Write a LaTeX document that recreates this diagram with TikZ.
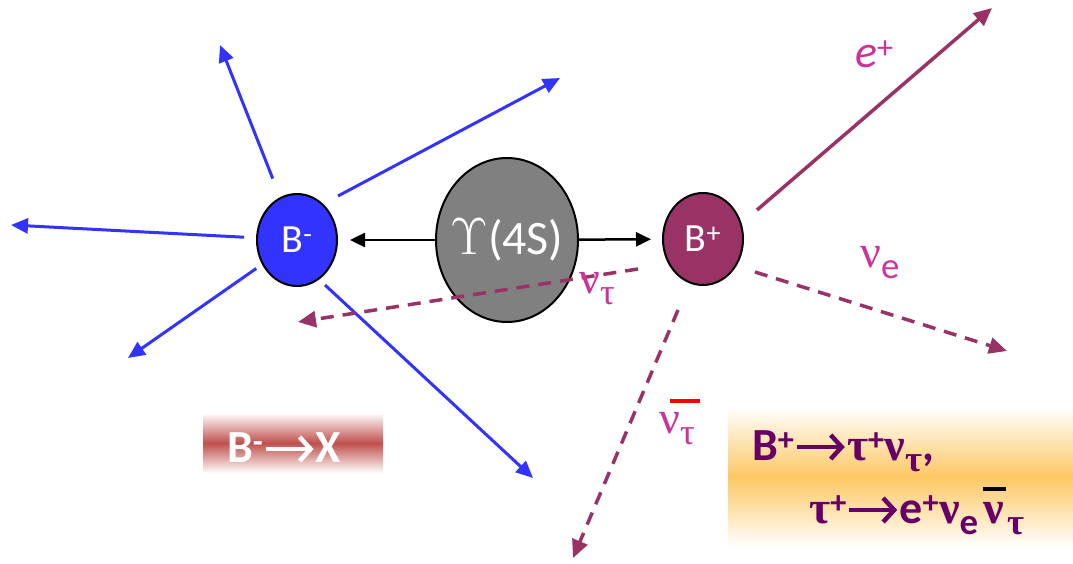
\documentclass[tikz,border=0pt]{standalone}
\usepackage{fontspec}
\setmainfont{Carlito}
\newfontfamily\grk{Liberation Serif}
\usetikzlibrary{arrows.meta,calc,positioning,shapes.geometric}
\definecolor{bmblue}{RGB}{51,51,255}
\definecolor{bpplum}{RGB}{153,51,102}
\definecolor{upsgray}{RGB}{128,128,128}
\definecolor{lblpink}{RGB}{204,51,153}
\definecolor{boxpurple}{RGB}{102,0,102}
\definecolor{bandred}{RGB}{192,80,77}
\definecolor{bandorange}{RGB}{252,200,100}
\newcommand{\bigtext}{\fontsize{46}{50}\selectfont}
\newcommand{\longarr}[1]{\tikz[baseline=-13pt]\draw[#1,line width=4.5pt,
  -{Straight Barb[length=11pt,width=24pt]}] (0pt,0pt) -- (48pt,0pt);}
\newcommand{\gnu}{{\grk ν}}
\newcommand{\gtau}{{\grk τ}}
\newcommand{\lsub}[1]{\raisebox{-0.26em}{\scalebox{0.8}{#1}}}
\newcommand{\barnu}{\makebox[0pt][l]{\raisebox{0.7em}{\color{black}\rule{0.5em}{0.09em}}}\gnu}
\tikzset{
  meson/.style={ellipse,draw=black,line width=2pt,minimum width=80pt,minimum height=92pt,
    inner sep=0pt,text=white,font=\fontsize{40}{44}\selectfont},
  beam/.style={draw=black,line width=2.5pt,-{Triangle[length=15pt,width=14pt]}},
  track/.style={draw=bmblue,line width=3pt,-{Triangle[length=17pt,width=15pt]}},
  lepton/.style={draw=bpplum,line width=3.5pt,-{Triangle[length=18pt,width=16pt]}},
  neutrino/.style={lepton,dash pattern=on 13pt off 9pt},
  lbl/.style={text=lblpink,font=\bigtext,inner sep=0pt,anchor=base west},
  boxtext/.style={text=boxpurple,font=\bigtext\bfseries,inner sep=0pt,anchor=base west}
}
\begin{document}
\begin{tikzpicture}[x=1pt,y=-1pt]
  \useasboundingbox (0,0) rectangle (1073,564);
  % decay boxes
  \shade[top color=white,bottom color=white,middle color=bandred] (203,413) rectangle (383,473);
  \shade[top color=white,bottom color=white,middle color=bandorange] (728,407) rectangle (1073,547);
  % mesons
  \node[meson,fill=upsgray,minimum width=142pt,minimum height=164pt,font=\fontsize{48}{52}\selectfont]
    (ups) at (507,240) {\makebox[0pt]{\scalebox{2.1}{$\Upsilon$}(4S)}};
  \node[meson,fill=bmblue] (bm) at (297,240) {B\textsuperscript{-}};
  \node[meson,fill=bpplum] (bp) at (703,239) {B\textsuperscript{+}};
  \draw[beam,shorten >=12pt] (ups) -- (bm);
  \draw[beam,shorten >=11pt] (ups) -- (bp);
  % B- tracks
  \coordinate (tUp) at (220,45);
  \coordinate (tLeft) at (11,225);
  \coordinate (tDownL) at (128,358);
  \coordinate (tUpRS) at (338,196);
  \coordinate (tUpR) at (560,78);
  \coordinate (tDownRS) at (325,285);
  \coordinate (tDownR) at (533,478);
  \draw[track,shorten <=20pt] (bm) -- (tUp);
  \draw[track,shorten <=12pt] (bm) -- (tLeft);
  \draw[track,shorten <=7pt] (bm) -- (tDownL);
  \draw[track] (tUpRS) -- (tUpR);
  \draw[track] (tDownRS) -- (tDownR);
  % B+ decay products
  \coordinate (ePlusS) at (757,210);
  \coordinate (ePlus) at (992,8);
  \coordinate (nuTauS) at (638,269);
  \coordinate (nuTau) at (298,322);
  \coordinate (nuBarS) at (678,310);
  \coordinate (nuBar) at (573,558);
  \coordinate (nuES) at (755,272);
  \coordinate (nuE) at (1007,351);
  \draw[lepton] (ePlusS) -- (ePlus);
  \draw[neutrino] (nuTauS) -- (nuTau);
  \draw[neutrino] (nuBarS) -- (nuBar);
  \draw[neutrino] (nuES) -- (nuE);
  % labels
  \node[lbl] (ePlusLbl) at (855,68) {\textit{e}\textsuperscript{+}};
  \node[lbl] (nuELbl) at (860,267) {\gnu\lsub{e}};
  \node[lbl] (nuTauLbl) at (579,293) {\gnu\lsub{\gtau}};
  \node[lbl] (nuBarLbl) at (659,433) {\gnu\lsub{\gtau}};
  \draw[red,line width=3.5pt] ($(nuBarLbl.base west)+(11,-32)$) -- ++(30,0);
  % decay texts
  \node[lbl,text=white,font=\bigtext\bfseries] (bmDecay) at (227,462) {B\textsuperscript{-}\longarr{white}X};
  \node[boxtext] (bpDecay) at (752,460) {B\textsuperscript{+}\longarr{boxpurple}\gtau\textsuperscript{+}\gnu\lsub{\gtau},};
  \node[boxtext] (tauDecay) at (809,523) {\gtau\textsuperscript{+}\longarr{boxpurple}e\textsuperscript{+}\gnu\lsub{e}\hspace{5pt}\barnu\hspace{4pt}\lsub{\gtau}};
\end{tikzpicture}
\end{document}
